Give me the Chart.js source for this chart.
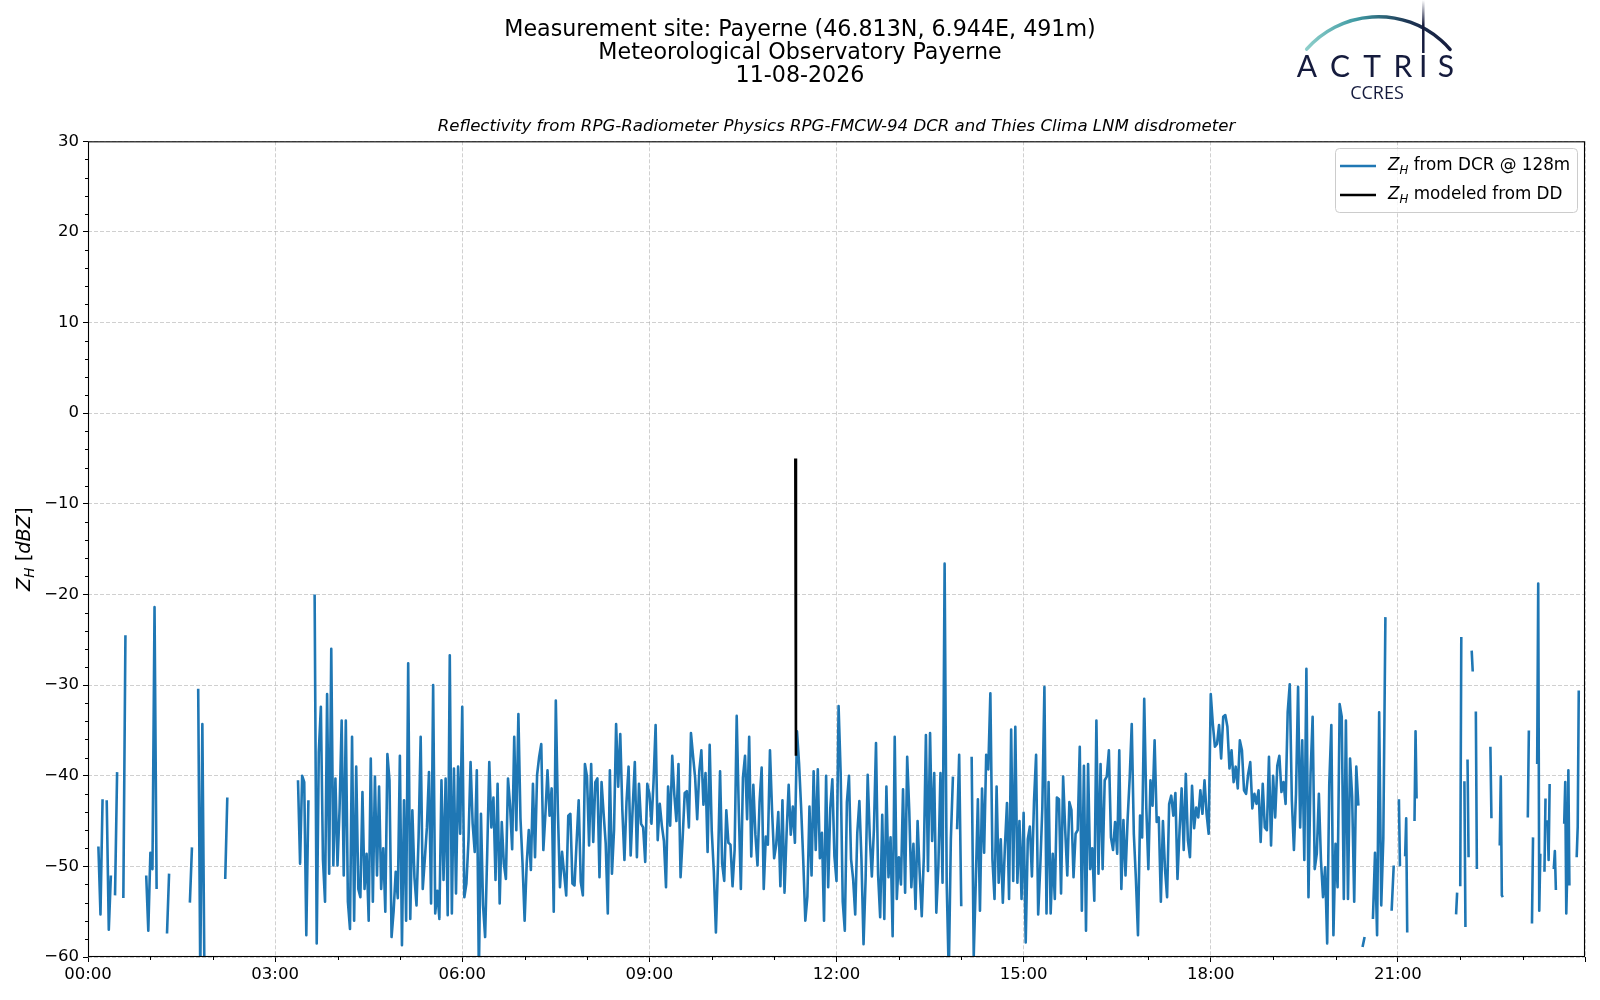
<!DOCTYPE html>
<html lang="en">
<head>
  <meta charset="UTF-8">
  <title>Reflectivity Payerne 11-08-2026</title>
  <style>
    html, body { margin: 0; padding: 0; background: #ffffff; }
    canvas { display: block; }
  </style>
</head>
<body>
<canvas id="zhChart" width="1600" height="1000"></canvas>

<script src="https://cdn.jsdelivr.net/npm/chart.js"></script>
<script>
  // --- data ----------------------------------------------------------------
  // one row per hour of the day, values spread evenly over the hour (null = no data)
  const zh00 = [null, null, null, null, null, -47.8, -55.3, -42.6, null, -42.7,
                -57.0, -51.0, null, -53.2, -39.6, null, null, -53.5, -24.5, null,
                null, null, null, null, null, null, null, null, -51.0, -57.1];
  const zh01 = [-48.5, -50.3, -21.4, -52.5, null, null, null, null, -57.4, -50.8,
                null, null, null, null, null, null, null, null, null, -54.0,
                -47.9, null, null, -30.4, -62, -34.3, -62, null, null, null];
  const zh02 = [null, null, null, null, null, null, -51.4, -42.4, null, null,
                null, null, null, null, null, null, null, null, null, null,
                null, null, null, null, null, null, null, null, null, null];
  const zh03 = [null, null, null, null, null, null, null, null, null, null,
                null, -40.5, -49.7, -40.0, -40.7, -57.6, -42.7, null, null, -20.0,
                -58.5, -37.4, -32.4, -49.2, -53.9, -31.0, -50.8, -26.0, -49.9, -40.3];
  const zh04 = [-49.9, -43.6, -33.9, -51.0, -33.9, -53.9, -56.9, -35.7, -56.0, -39.0,
                -52.5, -53.4, -41.8, -52.5, -48.6, -56.0, -38.1, -53.9, -40.1, -51.0,
                -41.2, -52.5, -48.0, -55.0, -37.6, -40.5, -57.8, -54.9, -50.6, -53.5];
  const zh05 = [-37.8, -58.7, -42.7, -56.0, -27.6, -55.8, -43.8, -51.2, -54.3, -46.8,
                -35.7, -52.5, -49.2, -45.7, -39.6, -54.1, -30.0, -55.2, -52.7, -55.8,
                -40.5, -51.5, -40.3, -55.4, -26.7, -55.2, -39.2, -53.0, -39.0, -46.4];
  const zh06 = [-32.4, -53.4, -51.9, -47.1, -38.5, -45.3, -48.4, -39.4, -62, -44.2,
                -54.3, -57.8, -48.6, -38.5, -45.7, -42.4, -51.5, -40.9, -54.1, -45.1,
                -49.7, -51.4, -40.3, -43.3, -48.1, -35.7, -46.0, -33.2, -44.7, -49.7];
  const zh07 = [-56.0, -49.7, -46.0, -50.4, -40.9, -49.0, -39.9, -37.9, -36.5, -48.2,
                -44.2, -39.4, -44.4, -41.4, -55.0, -31.7, -44.0, -52.3, -48.4, -50.8,
                -53.2, -44.4, -44.2, -51.9, -52.1, -47.3, -42.7, -51.7, -53.2, -38.7];
  const zh08 = [-40.1, -47.7, -38.7, -47.3, -40.7, -40.3, -51.2, -40.7, -44.2, -47.5,
                -55.2, -39.4, -50.8, -46.0, -34.3, -41.2, -35.4, -43.8, -49.3, -42.9,
                -39.0, -48.8, -43.4, -38.5, -49.0, -40.9, -45.3, -45.7, -49.5, -40.9];
  const zh09 = [-42.0, -45.3, -40.7, -34.4, -47.1, -43.1, -45.5, -47.2, -52.3, -41.2,
                -45.5, -37.8, -42.1, -45.0, -38.7, -51.2, -46.9, -41.9, -41.7, -45.7,
                -35.3, -37.8, -40.2, -44.8, -39.5, -37.2, -43.2, -39.7, -48.4, -36.6];
  const zh10 = [-46.1, -50.6, -57.3, -49.7, -39.5, -49.7, -51.6, -43.8, -47.4, -47.6,
                -52.2, -48.2, -33.4, -43.8, -52.5, -40.2, -37.8, -44.8, -35.7, -48.9,
                -41.0, -46.5, -49.9, -42.9, -39.1, -52.5, -46.7, -47.6, -37.2, -43.8];
  const zh11 = [-49.1, -47.6, -44.0, -52.2, -42.7, -52.9, -46.3, -41.0, -46.5, -43.4,
                -47.4, -35.1, -38.7, -43.6, -49.3, -56.0, -53.3, -43.4, -51.0, -39.5,
                -48.2, -39.3, -49.1, -46.3, -56.0, -40.0, -52.3, -43.6, -40.4, -48.9];
  const zh12 = [-51.6, -32.3, -39.7, -53.9, -57.1, -42.9, -40.0, -49.2, -51.4, -55.3,
                -46.3, -42.8, -49.2, -58.6, -51.4, -39.9, -46.7, -51.1, -45.9, -36.4,
                -50.9, -55.6, -44.3, -55.8, -41.2, -51.2, -46.8, -57.7, -35.7, -53.6];
  const zh13 = [-49.0, -52.0, -41.5, -52.9, -37.9, -43.9, -52.3, -47.5, -54.7, -45.0,
                -50.7, -55.5, -49.0, -35.5, -50.5, -35.3, -47.2, -39.7, -55.1, -50.0,
                -39.7, -51.8, -16.6, -51.8, -62, -47.0, -40.1, null, -45.9, -37.7];
  const zh14 = [-54.4, null, null, null, null, -37.9, -59.9, -51.6, -42.6, -54.9,
                -41.4, -48.5, -37.7, -39.3, -30.9, -49.2, -53.6, -41.2, -51.8, -47.0,
                -54.0, -47.8, -43.0, -53.6, -34.9, -51.6, -34.6, -51.8, -45.0, -53.6];
  const zh15 = [-44.1, -58.4, -47.0, -45.6, -51.1, -42.8, -37.7, -55.3, -50.1, -43.5,
                -30.2, -55.2, -40.7, -55.2, -48.6, -53.6, -42.4, -42.6, -53.0, -40.1,
                -46.0, -51.0, -42.9, -43.8, -51.2, -46.4, -46.0, -36.8, -54.9, -38.9];
  const zh16 = [-57.1, -38.7, -50.3, -48.0, -53.8, -33.9, -50.8, -38.7, -50.3, -40.5,
                -40.1, -37.2, -46.8, -48.2, -45.1, -48.6, -37.2, -52.5, -44.9, -51.0,
                -44.9, -40.3, -34.3, -46.4, -51.4, -57.6, -44.4, -46.8, -31.5, -43.5];
  const zh17 = [-50.3, -40.5, -43.3, -36.1, -45.1, -44.6, -53.9, -45.0, -50.3, -53.4,
                -43.1, -42.2, -44.4, -41.9, -51.4, -46.0, -41.4, -48.2, -39.8, -47.1,
                -49.0, -41.1, -45.8, -43.5, -44.6, -41.6, -44.2, -40.5, -44.2, -46.4];
  const zh18 = [-31.0, -34.3, -36.8, -36.5, -34.4, -38.1, -33.5, -33.3, -34.6, -39.2,
                -37.2, -40.7, -39.0, -41.4, -36.1, -37.2, -41.6, -42.0, -39.8, -38.5,
                -43.6, -42.0, -43.1, -41.6, -47.3, -40.9, -45.7, -46.0, -37.9, -47.7];
  const zh19 = [-40.0, -44.6, -38.9, -37.8, -41.8, -40.7, -43.1, -33.0, -29.9, -42.7,
                -48.2, -42.0, -30.2, -45.7, -36.1, -49.3, -28.2, -53.4, -39.8, -33.5,
                -50.3, -48.6, -42.0, -49.3, -53.4, -50.1, -58.5, -40.9, -34.4, -57.6];
  const zh20 = [-47.5, -52.3, -32.1, -33.5, -53.6, -33.9, -53.6, -38.1, -42.3, -53.9,
                -39.0, -43.3, null, -58.9, -57.8, null, null, null, -55.8, -48.5,
                -57.6, -33.0, -54.3, -46.9, -22.5, null, null, -54.9, -49.9, null];
  // the last three hours are patchy, so they are read at one value per minute
  const zh21 = [null, -42.6, -50.0, null, null, null, null, -48.9, -44.7, -57.3,
                null, null, null, null, null, null, -45.0, -35.1, -42.5, null,
                null, null, null, null, null, null, null, null, null, null,
                null, null, null, null, null, null, null, null, null, null,
                null, null, null, null, null, null, null, null, null, null,
                null, null, null, null, null, null, -55.3, -52.9, null, null];
  const zh22 = [-52.2, -24.7, null, null, -40.6, -56.7, null, -38.2, -49.0, null,
                null, -26.2, -28.5, null, null, -32.9, -50.3, null, null, null,
                null, null, null, null, null, null, null, null, null, -36.8,
                -44.7, null, null, null, null, null, null, null, -47.7, -40.1,
                -53.2, -53.4, null, null, null, null, null, null, null, null,
                null, null, null, null, null, null, null, null, null, null];
  const zh23 = [null, null, null, null, null, -44.6, -35.0, null, null, -56.3,
                -46.8, null, null, null, -38.7, -18.8, -54.9, -48.6, null, null,
                null, -50.6, -42.5, null, -44.9, -49.3, -40.9, null, null, null,
                -50.3, -48.3, -52.6, null, null, null, null, null, null, null,
                -45.3, -40.7, -55.2, -50.3, -39.4, -52.1, null, null, null, null,
                null, null, -49.0, -45.6, -30.6, null, null, null, null, null];

  // disdrometer-modeled reflectivity (hours of day, dBZ)
  const ddHours = [11.34, 11.35];
  const ddZh = [-5.0, -37.8];

  const timeTickLabels = ['00:00', '03:00', '06:00', '09:00', '12:00', '15:00', '18:00', '21:00'];
  const titleLines = [
    'Measurement site: Payerne (46.813N, 6.944E, 491m)',
    'Meteorological Observatory Payerne',
    '11-08-2026'
  ];
  const subtitleText = 'Reflectivity from RPG-Radiometer Physics RPG-FMCW-94 DCR and Thies Clima LNM disdrometer';
  const legendLabels = [' from DCR @ 128m', ' modeled from DD'];

  // --- build the series -----------------------------------------------------
  const dcrRows = [zh00, zh01, zh02, zh03, zh04, zh05, zh06, zh07, zh08, zh09, zh10, zh11,
                   zh12, zh13, zh14, zh15, zh16, zh17, zh18, zh19, zh20, zh21, zh22, zh23];
  const dcrPoints = [];
  dcrRows.forEach((row, hour) => {
    row.forEach((v, i) => dcrPoints.push({ x: hour + i / row.length, y: v }));
  });
  const ddPoints = ddHours.map((h, i) => ({ x: h, y: ddZh[i] }));

  const BLUE = '#1f77b4';
  const FONT = 'DejaVu Sans';
  const GRID = 'rgba(170,170,170,0.55)';

  function fmtNum(v) {
    return v < 0 ? '\u2212' + Math.abs(v) : String(v);
  }

  // draws "Z" + subscript "H" + rest, starting at x (left), centred on y
  function drawZh(ctx, x, y, size, rest) {
    ctx.textAlign = 'left';
    ctx.textBaseline = 'middle';
    ctx.font = 'italic ' + size + 'px "' + FONT + '"';
    ctx.fillText('Z', x, y);
    x += ctx.measureText('Z').width;
    const sub = size * 0.7;
    ctx.font = 'italic ' + sub + 'px "' + FONT + '"';
    ctx.fillText('H', x, y + size * 0.28);
    x += ctx.measureText('H').width;
    ctx.font = size + 'px "' + FONT + '"';
    ctx.fillText(rest, x, y);
  }

  const decorPlugin = {
    id: 'decor',
    afterDraw(chart) {
      const ctx = chart.ctx;
      const area = chart.chartArea;
      const xs = chart.scales.x;
      const ys = chart.scales.y;
      ctx.save();

      // minor ticks: every 2 dBZ on y, every hour on x
      ctx.strokeStyle = '#000';
      ctx.lineWidth = 1;
      for (let v = -60; v <= 30; v += 2) {
        if (v % 10 === 0) continue;
        const py = Math.round(ys.getPixelForValue(v)) + 0.5;
        ctx.beginPath();
        ctx.moveTo(area.left - 3, py);
        ctx.lineTo(area.left, py);
        ctx.stroke();
      }
      for (let h = 1; h < 24; h++) {
        if (h % 3 === 0) continue;
        const px = Math.round(xs.getPixelForValue(h)) + 0.5;
        ctx.beginPath();
        ctx.moveTo(px, area.bottom);
        ctx.lineTo(px, area.bottom + 3);
        ctx.stroke();
      }

      // frame round the plot
      ctx.lineWidth = 1.1;
      ctx.strokeRect(area.left + 0.5, area.top + 0.5, area.right - area.left - 1, area.bottom - area.top - 1);

      // y axis title: Z_H [dBZ]
      ctx.save();
      ctx.translate(25, (area.top + area.bottom) / 2);
      ctx.rotate(-Math.PI / 2);
      ctx.fillStyle = '#000';
      const s = 19.4;
      ctx.font = 'italic ' + s + 'px "' + FONT + '"';
      const wZ = ctx.measureText('Z').width;
      const wD = ctx.measureText('dBZ').width;
      ctx.font = 'italic ' + (s * 0.7) + 'px "' + FONT + '"';
      const wH = ctx.measureText('H').width;
      ctx.font = s + 'px "' + FONT + '"';
      const wO = ctx.measureText(' [').width;
      const wC = ctx.measureText(']').width;
      let x0 = -(wZ + wH + wO + wD + wC) / 2;
      drawZh(ctx, x0, 0, s, ' [');
      x0 += wZ + wH + wO;
      ctx.font = 'italic ' + s + 'px "' + FONT + '"';
      ctx.fillText('dBZ', x0, 0);
      ctx.font = s + 'px "' + FONT + '"';
      ctx.fillText(']', x0 + wD, 0);
      ctx.restore();

      // legend
      const lx = 1335, ly = 148, lw = 242, lh = 64;
      ctx.beginPath();
      ctx.roundRect(lx + 0.5, ly + 0.5, lw, lh, 4);
      ctx.fillStyle = 'rgba(255,255,255,0.8)';
      ctx.fill();
      ctx.strokeStyle = '#cccccc';
      ctx.lineWidth = 1;
      ctx.stroke();
      const rows = [{ y: 166, color: BLUE }, { y: 195, color: '#000' }];
      rows.forEach((r, i) => {
        ctx.strokeStyle = r.color;
        ctx.lineWidth = 2.6;
        ctx.beginPath();
        ctx.moveTo(1340, r.y);
        ctx.lineTo(1376, r.y);
        ctx.stroke();
        ctx.fillStyle = '#000';
        drawZh(ctx, 1388, r.y, 16.8, legendLabels[i]);
      });

      // ACTRIS / CCRES logo
      const navy = '#151b3d';
      const grad = ctx.createLinearGradient(1305, 0, 1452, 0);
      grad.addColorStop(0, '#8fd0cb');
      grad.addColorStop(0.35, '#3f9aa3');
      grad.addColorStop(0.7, '#1d3553');
      grad.addColorStop(1, navy);
      ctx.strokeStyle = grad;
      ctx.lineWidth = 3.5;
      ctx.lineCap = 'round';
      ctx.beginPath();
      ctx.arc(1378.3, 111.9, 95.2, -138.8 * Math.PI / 180, -41.1 * Math.PI / 180);
      ctx.stroke();
      const vgrad = ctx.createLinearGradient(0, 0, 0, 25);
      vgrad.addColorStop(0, 'rgba(21,27,61,0)');
      vgrad.addColorStop(1, navy);
      ctx.strokeStyle = vgrad;
      ctx.lineWidth = 2.5;
      ctx.lineCap = 'butt';
      ctx.beginPath();
      ctx.moveTo(1423.3, 0);
      ctx.lineTo(1423.3, 53);
      ctx.stroke();
      ctx.fillStyle = navy;
      ctx.textAlign = 'center';
      ctx.textBaseline = 'alphabetic';
      ctx.font = '30px Lato';
      const letters = ['A', 'C', 'T', 'R', 'I', 'S'];
      const centres = [1307, 1340, 1372, 1403, 1423.3, 1446];
      letters.forEach((ch, i) => ctx.fillText(ch, centres[i], 77));
      ctx.font = '18px "Open Sans"';
      ctx.fillText('CCRES', 1377, 99);

      ctx.restore();
    }
  };

  Chart.defaults.font.family = FONT;
  Chart.defaults.color = '#000';

  const ctx = document.getElementById('zhChart').getContext('2d');
  new Chart(ctx, {
    type: 'line',
    data: {
      datasets: [
        {
          label: 'ZH from DCR @ 128m',
          data: dcrPoints,
          borderColor: BLUE,
          borderWidth: 2.6,
          pointRadius: 0,
          tension: 0,
          spanGaps: false,
          borderJoinStyle: 'round',
          clip: 0,
          order: 1
        },
        {
          label: 'ZH modeled from DD',
          data: ddPoints,
          borderColor: '#000',
          borderWidth: 2.6,
          pointRadius: 0,
          tension: 0,
          clip: 0,
          order: 0
        }
      ]
    },
    options: {
      responsive: false,
      animation: false,
      layout: { padding: 0 },
      scales: {
        x: {
          type: 'linear',
          min: 0,
          max: 24,
          afterFit: (scale) => { scale.height = 43; },
          ticks: {
            stepSize: 1,
            autoSkip: false,
            maxRotation: 0,
            padding: 3,
            color: '#000',
            font: { size: 16.5 },
            callback: (v) => (v % 3 === 0 && v < 24) ? timeTickLabels[v / 3] : ''
          },
          grid: {
            color: (c) => (c.tick && c.tick.value % 3 === 0) ? GRID : 'rgba(0,0,0,0)',
            lineWidth: 1,
            tickColor: (c) => (c.tick && c.tick.value % 3 === 0) ? '#000' : 'rgba(0,0,0,0)',
            tickLength: 5
          },
          border: { display: false, dash: [4, 2] }
        },
        y: {
          min: -60,
          max: 30,
          afterFit: (scale) => { scale.width = 88; },
          ticks: {
            stepSize: 10,
            padding: 4,
            color: '#000',
            font: { size: 16.5 },
            callback: (v) => fmtNum(v)
          },
          grid: {
            color: GRID,
            lineWidth: 1,
            tickColor: '#000',
            tickLength: 5
          },
          border: { display: false, dash: [4, 2] }
        },
        // empty strip on the right so the plot ends short of the canvas edge
        // while the title stays centred on the whole figure
        yRight: {
          position: 'right',
          min: 0,
          max: 1,
          afterFit: (scale) => { scale.width = 15; },
          ticks: { display: false },
          grid: { display: false, drawTicks: false },
          border: { display: false }
        }
      },
      plugins: {
        legend: { display: false },
        tooltip: { enabled: false },
        title: {
          display: true,
          text: titleLines,
          color: '#000',
          font: { family: FONT, size: 22.2, weight: 'normal', lineHeight: '22.8px' },
          padding: { top: 19, bottom: 29 }
        },
        subtitle: {
          display: true,
          text: subtitleText,
          fullSize: false,
          color: '#000',
          font: { family: FONT, size: 16.6, style: 'italic', weight: 'normal', lineHeight: 1.2 },
          padding: { top: 0, bottom: 5 }
        }
      }
    },
    plugins: [decorPlugin]
  });
</script>
</body>
</html>
